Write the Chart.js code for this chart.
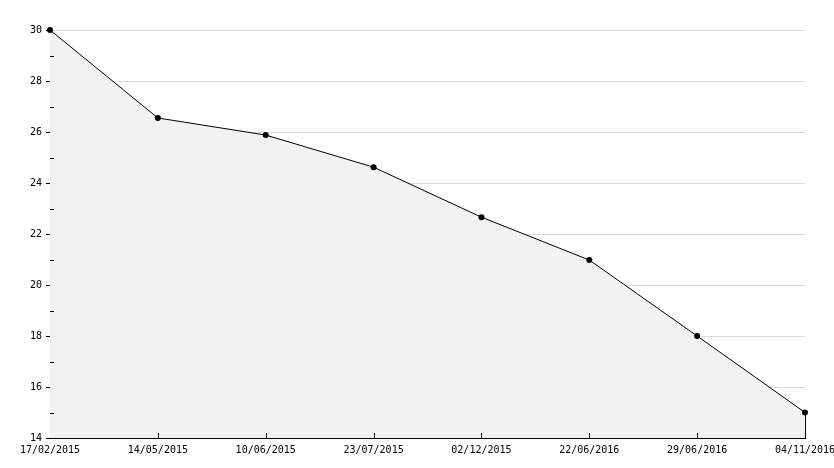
<!DOCTYPE html>
<html>
<head>
<meta charset="utf-8">
<script src="https://cdn.jsdelivr.net/npm/chart.js@4"></script>
<style>
  html, body { margin: 0; padding: 0; background: #fff; }
  #wrap { width: 834px; height: 468px; }
</style>
</head>
<body>
<div id="wrap"><canvas id="grafico"></canvas></div>
<script>
const fechas = ['17/02/2015', '14/05/2015', '10/06/2015', '23/07/2015', '02/12/2015', '22/06/2016', '29/06/2016', '04/11/2016'];
const valores = [30, 26.55, 25.88, 24.62, 22.66, 20.98, 18, 15];
const yMin = 14;
const yMax = 30;
const yPaso = 2;

// marcas pequeñas: menores en el eje Y, hacia arriba en el eje X, y el borde derecho del área
const marcas = {
  id: 'marcas',
  afterDatasetsDraw(chart) {
    const { ctx, chartArea, scales } = chart;
    const x = scales.x, y = scales.y;
    ctx.save();
    ctx.strokeStyle = '#000';
    ctx.lineWidth = 1;
    ctx.beginPath();
    for (let v = yMin + 1; v < yMax; v += yPaso) {
      const py = Math.round(y.getPixelForValue(v)) + 0.5;
      ctx.moveTo(chartArea.left, py);
      ctx.lineTo(chartArea.left + 4, py);
    }
    for (let i = 1; i < fechas.length; i++) {
      const px = Math.round(x.getPixelForValue(i)) + 0.5;
      ctx.moveTo(px, chartArea.bottom);
      ctx.lineTo(px, chartArea.bottom - 5);
    }
    const ult = fechas.length - 1;
    const px = Math.round(x.getPixelForValue(ult)) + 0.5;
    ctx.moveTo(px, chartArea.bottom);
    ctx.lineTo(px, y.getPixelForValue(valores[ult]));
    ctx.stroke();
    ctx.restore();
  }
};

const fuente = { family: 'DejaVu Sans Mono', size: 10 };

new Chart(document.getElementById('grafico'), {
  type: 'line',
  data: {
    labels: fechas,
    datasets: [{
      data: valores,
      borderColor: '#000',
      borderWidth: 1,
      backgroundColor: '#f2f2f2',
      fill: 'origin',
      tension: 0,
      clip: false,
      pointStyle: 'circle',
      pointRadius: 3,
      pointBackgroundColor: '#000',
      pointBorderColor: '#000',
      pointBorderWidth: 0
    }]
  },
  options: {
    responsive: true,
    maintainAspectRatio: false,
    animation: false,
    layout: { padding: { left: 1, right: 29, top: 30, bottom: 0 } },
    plugins: { legend: { display: false }, tooltip: { enabled: false } },
    scales: {
      x: {
        offset: false,
        grid: { display: false, drawTicks: false },
        border: { display: true, color: '#000', width: 1 },
        ticks: { color: '#000', font: fuente, padding: 6, maxRotation: 0, autoSkip: false },
        afterFit(s) { s.height = 30; s.paddingLeft = 0; s.paddingRight = 0; }
      },
      y: {
        min: yMin,
        max: yMax,
        grid: { color: '#dcdcdc', tickColor: '#000', tickLength: 4, drawTicks: true },
        border: { display: true, color: '#000', width: 1 },
        ticks: { stepSize: yPaso, color: '#000', font: fuente, padding: 4 },
        afterFit(s) { s.width = 49; s.paddingTop = 0; s.paddingBottom = 0; }
      }
    }
  },
  plugins: [marcas]
});
</script>
</body>
</html>
